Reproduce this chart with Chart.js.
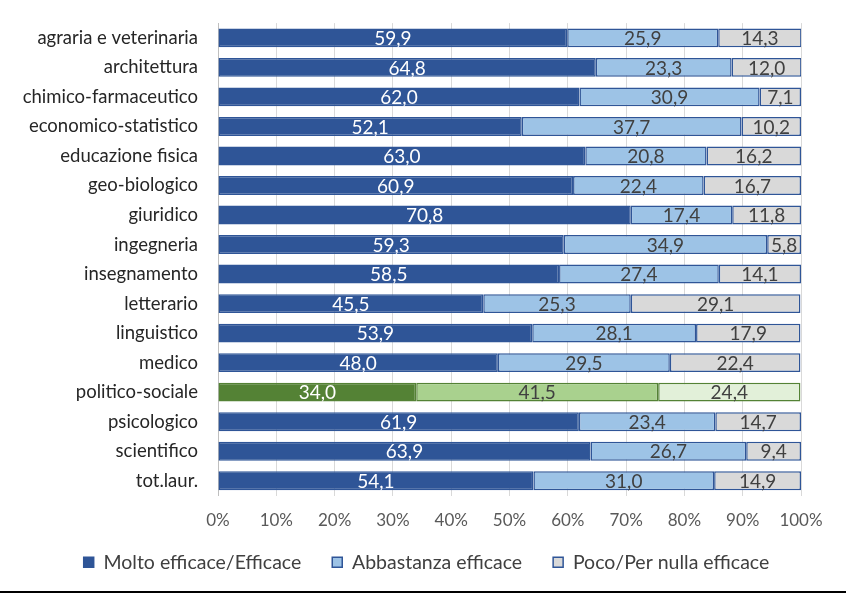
<!DOCTYPE html>
<html lang="it">
<head>
<meta charset="UTF-8">
<title>Efficacia</title>
<script src="https://cdn.jsdelivr.net/npm/chart.js"></script>
<style>
    body { margin: 0; background: #ffffff; }
    .wrap { width: 846px; height: 591px; border-bottom: 2px solid #000; position: relative; }
</style>
</head>
<body>
<div class="wrap"><canvas id="chart" width="846" height="591"></canvas></div>
<script>
    const categorie = ['agraria e veterinaria', 'architettura', 'chimico-farmaceutico', 'economico-statistico',
        'educazione fisica', 'geo-biologico', 'giuridico', 'ingegneria', 'insegnamento', 'letterario',
        'linguistico', 'medico', 'politico-sociale', 'psicologico', 'scientifico', 'tot.laur.'];
    const moltoEfficace = [59.9, 64.8, 62.0, 52.1, 63.0, 60.9, 70.8, 59.3, 58.5, 45.5, 53.9, 48.0, 34.0, 61.9, 63.9, 54.1];
    const abbastanza = [25.9, 23.3, 30.9, 37.7, 20.8, 22.4, 17.4, 34.9, 27.4, 25.3, 28.1, 29.5, 41.5, 23.4, 26.7, 31.0];
    const pocoNulla = [14.3, 12.0, 7.1, 10.2, 16.2, 16.7, 11.8, 5.8, 14.1, 29.1, 17.9, 22.4, 24.4, 14.7, 9.4, 14.9];
    const xTicks = [0, 10, 20, 30, 40, 50, 60, 70, 80, 90, 100];

    const evidenziata = categorie.indexOf('politico-sociale');
    const FONT = "Lato, 'Open Sans', sans-serif";

    function colore(normale, verde) {
        return ctx => (ctx.dataIndex === evidenziata ? verde : normale);
    }

    // etichette dentro le barre
    const etichette = {
        id: 'etichette',
        afterDatasetsDraw(chart) {
            const c = chart.ctx;
            c.save();
            c.font = '19px ' + FONT;
            c.textAlign = 'center';
            c.textBaseline = 'middle';
            chart.data.datasets.forEach((ds, i) => {
                chart.getDatasetMeta(i).data.forEach((bar, j) => {
                    const cx = (bar.x + bar.base) / 2;
                    c.fillStyle = i === 0 ? '#ffffff' : '#404040';
                    c.fillText(ds.data[j].toFixed(1).replace('.', ','), cx, bar.y + 1);
                });
            });
            c.restore();
        }
    };

    // sposta la legenda: un po' più in alto e più a destra
    const spostaLegenda = {
        id: 'spostaLegenda',
        afterLayout(chart) {
            chart.legend.top -= 9;
            chart.legend.bottom -= 9;
            chart.legend.left += 26;
            chart.legend.right += 26;
        }
    };

    new Chart(document.getElementById('chart'), {
        type: 'bar',
        data: {
            labels: categorie,
            datasets: [{
                label: 'Molto efficace/Efficace',
                data: moltoEfficace,
                backgroundColor: colore('#2f5597', '#548235'),
                borderColor: colore('#2f5597', '#548235')
            }, {
                label: 'Abbastanza efficace',
                data: abbastanza,
                backgroundColor: colore('#9dc3e6', '#a9d18e'),
                borderColor: colore('#2f5597', '#548235')
            }, {
                label: 'Poco/Per nulla efficace',
                data: pocoNulla,
                backgroundColor: colore('#d9d9d9', '#e2f0d9'),
                borderColor: colore('#2f5597', '#548235')
            }]
        },
        options: {
            indexAxis: 'y',
            responsive: false,
            animation: false,
            layout: { padding: { top: 10, right: 45, left: 0, bottom: 0 } },
            datasets: {
                bar: { borderWidth: 1.5, borderSkipped: false, categoryPercentage: 0.64, barPercentage: 1 }
            },
            scales: {
                x: {
                    stacked: true,
                    min: 0,
                    max: 100,
                    afterBuildTicks: s => { s.ticks = xTicks.map(v => ({ value: v })); },
                    afterFit: s => { s.height = 35; },
                    grid: { color: '#d9d9d9', drawTicks: false },
                    border: { display: false },
                    ticks: { callback: v => v + '%', color: '#595959', padding: 15, font: { size: 17, family: FONT } }
                },
                y: {
                    stacked: true,
                    afterFit: s => { s.width = 218; },
                    grid: { display: false },
                    border: { display: true, color: '#bfbfbf', width: 1 },
                    ticks: { color: '#262626', padding: 12, font: { size: 18.5, family: FONT } }
                }
            },
            plugins: {
                legend: {
                    position: 'bottom',
                    labels: {
                        boxWidth: 10,
                        boxHeight: 10,
                        padding: 31,
                        color: '#404040',
                        font: { size: 19.5, family: FONT }
                    }
                },
                tooltip: { enabled: false }
            }
        },
        plugins: [etichette, spostaLegenda]
    });
</script>
</body>
</html>
